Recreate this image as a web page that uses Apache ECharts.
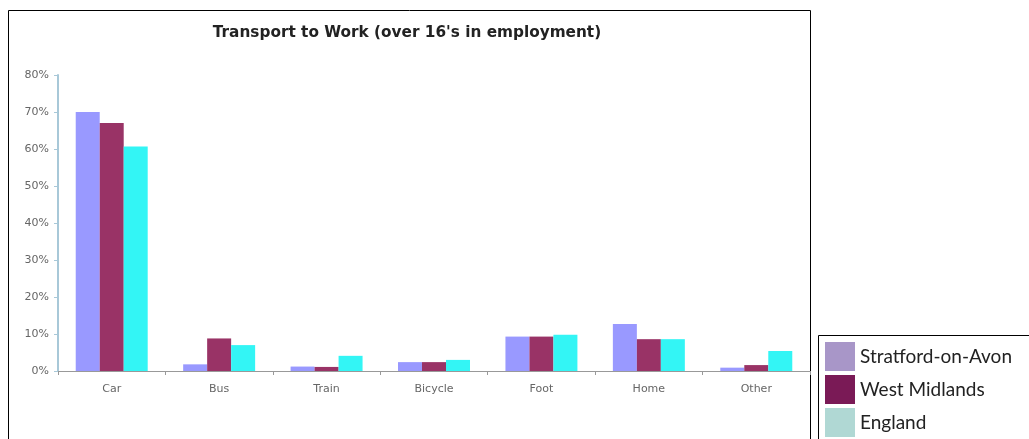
<!DOCTYPE html>
<html><head><meta charset="utf-8">
<script src="https://cdn.jsdelivr.net/npm/echarts@6/dist/echarts.min.js"></script>
<style>html,body{margin:0;padding:0;background:#fff}#c{width:1029px;height:439px}</style>
</head><body><div id="c"></div>
<script>
const categories = ['Car','Bus','Train','Bicycle','Foot','Home','Other'];
const stratford = [70.0, 1.8, 1.2, 2.4, 9.3, 12.7, 0.9];
const westMidlands = [67.0, 8.8, 1.1, 2.4, 9.3, 8.6, 1.6];
const england = [60.7, 7.0, 4.1, 3.0, 9.8, 8.6, 5.4];
const seriesNames = ['Stratford-on-Avon','West Midlands','England'];
const barColors = ['#9999ff','#993366','#33f5f5'];
const legendColors = ['#a896c8','#7a1a56','#b0d8d4'];
const yTicks = [0,10,20,30,40,50,60,70,80];

const chart = echarts.init(document.getElementById('c'));
chart.setOption({
  animation:false,
  title:{text:"Transport to Work (over 16's in employment)",left:402,top:21,textAlign:'center',
    textStyle:{fontFamily:'DejaVu Sans',fontWeight:'bold',fontSize:15.3,color:'#222'}},
  graphic:[
    {type:'rect',shape:{x:8.5,y:10.5,width:802,height:440},style:{fill:'none',stroke:'#000',lineWidth:1},z:-1},
    {type:'rect',shape:{x:818.5,y:335.5,width:220,height:120},style:{fill:'none',stroke:'#000',lineWidth:1},z:-1}
  ],
  legend:{left:825,top:342,orient:'vertical',padding:0,itemWidth:30,itemHeight:29,itemGap:4,
    textStyle:{fontFamily:'Lato',fontSize:19,color:'#222'},
    data:seriesNames.map((n,i)=>({name:n,icon:'rect',itemStyle:{color:legendColors[i]}}))},
  grid:{left:58,right:219,top:75,bottom:68},
  xAxis:{type:'category',data:categories,
    axisLine:{lineStyle:{color:'#999'}},
    axisTick:{show:true,length:4,lineStyle:{color:'#999'}},
    axisLabel:{fontFamily:'DejaVu Sans',fontSize:11,color:'#666',margin:13}},
  yAxis:{type:'value',min:0,max:80,interval:10,
    axisLine:{show:true,lineStyle:{color:'#a8c8d8',width:2}},
    axisTick:{show:true,length:4,lineStyle:{color:'#a8c8d8'}},
    splitLine:{show:false},
    axisLabel:{fontFamily:'DejaVu Sans',fontSize:11,color:'#666',margin:9,
      formatter:v=>yTicks.includes(v)?v+'%':''}},
  series:[stratford,westMidlands,england].map((d,i)=>({
    name:seriesNames[i],type:'bar',data:d,barGap:'0%',barCategoryGap:'33%',
    itemStyle:{color:barColors[i]}}))
});
</script></body></html>
